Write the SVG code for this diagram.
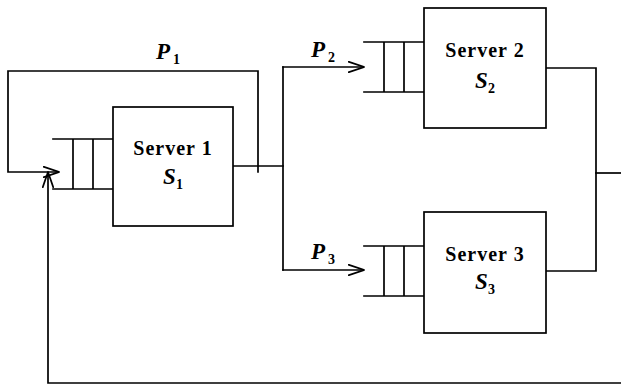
<svg xmlns="http://www.w3.org/2000/svg" width="621" height="387" viewBox="0 0 621 387">
<style>
.ln{fill:none;stroke:#000;stroke-width:1.7;stroke-linecap:square}
.bx{fill:#fff;stroke:#000;stroke-width:1.7}
.t{font-family:"Liberation Serif",serif;font-weight:bold;font-size:20px;letter-spacing:1px;fill:#000}
.v{font-family:"Liberation Serif",serif;font-weight:bold;font-style:italic;font-size:23px;fill:#000}
.sub{font-style:normal;font-size:14px}
</style>
<defs>
<marker id="arr" viewBox="0 0 16 12" refX="16" refY="6" markerUnits="userSpaceOnUse" markerWidth="16" markerHeight="12" orient="auto">
<path d="M0,0.5 L16,6 L0,11.5" fill="none" stroke="#000" stroke-width="1.7"/>
</marker>
</defs>
<rect width="621" height="387" fill="#fff"/>
<g id="connectors">
<path class="ln" d="M258,172 V71 H8 V172 H59" marker-end="url(#arr)"/>
<path class="ln" d="M621,383 H48 V172" marker-end="url(#arr)"/>
<path class="ln" d="M233,166 H283"/>
<path class="ln" d="M283,67 V270"/>
<path class="ln" d="M283,67 H364" marker-end="url(#arr)"/>
<path class="ln" d="M283,270 H364" marker-end="url(#arr)"/>
<path class="ln" d="M546,68 H596 V271 H546"/>
<path class="ln" d="M596,173 H621"/>
<text class="v" x="156" y="59">P<tspan class="sub" dx="3" dy="5">1</tspan></text>
<text class="v" x="311" y="57">P<tspan class="sub" dx="3" dy="5">2</tspan></text>
<text class="v" x="311" y="259">P<tspan class="sub" dx="3" dy="5">3</tspan></text>
</g>
<g id="server1">
<path class="ln" d="M53,139 H113 M53,189 H113 M73,139 V189 M93,139 V189"/>
<rect class="bx" x="113" y="107" width="120" height="119"/>
<text class="t" x="173" y="155" text-anchor="middle">Server 1</text>
<text class="v" x="173" y="184" text-anchor="middle">S<tspan class="sub" dy="5">1</tspan></text>
</g>
<g id="server2">
<path class="ln" d="M364,42 H424 M364,92 H424 M384,42 V92 M404,42 V92"/>
<rect class="bx" x="424" y="8" width="122" height="120"/>
<text class="t" x="485" y="57" text-anchor="middle">Server 2</text>
<text class="v" x="485" y="88" text-anchor="middle">S<tspan class="sub" dy="5">2</tspan></text>
</g>
<g id="server3">
<path class="ln" d="M364,246 H424 M364,296 H424 M384,246 V296 M404,246 V296"/>
<rect class="bx" x="424" y="212" width="122" height="121"/>
<text class="t" x="485" y="261" text-anchor="middle">Server 3</text>
<text class="v" x="485" y="289" text-anchor="middle">S<tspan class="sub" dy="5">3</tspan></text>
</g>
</svg>
